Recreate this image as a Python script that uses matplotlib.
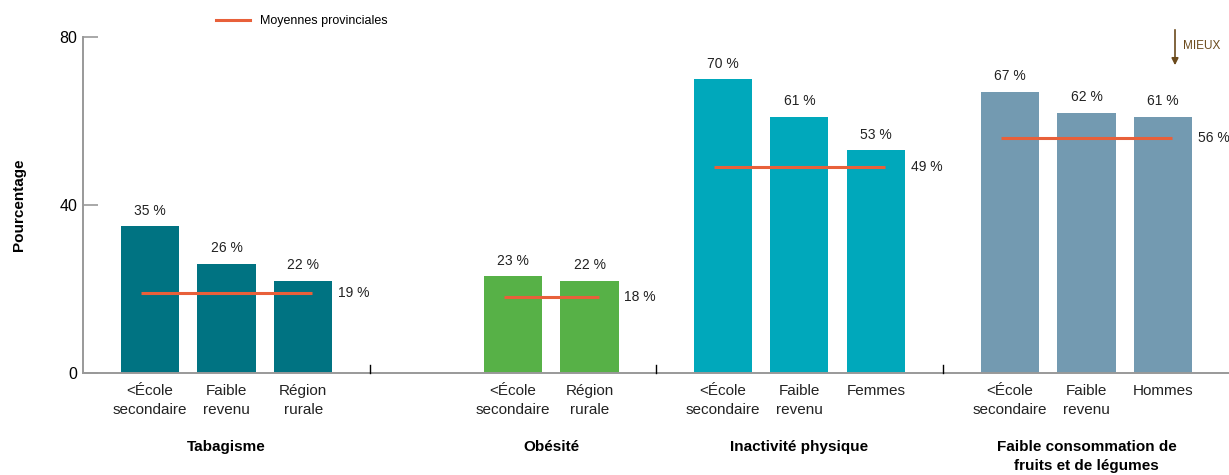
import matplotlib.pyplot as plt
from matplotlib.lines import Line2D
from matplotlib.transforms import blended_transform_factory

plt.rcParams['font.family'] = ['Liberation Sans', 'DejaVu Sans']

# data
group_names = ["Tabagisme", "Obésité", "Inactivité physique",
               "Faible consommation de\nfruits et de légumes"]
tabac_labels = ["<École\nsecondaire", "Faible\nrevenu", "Région\nrurale"]
tabac_vals = [35, 26, 22]
obes_labels = ["<École\nsecondaire", "Région\nrurale"]
obes_vals = [23, 22]
inact_labels = ["<École\nsecondaire", "Faible\nrevenu", "Femmes"]
inact_vals = [70, 61, 53]
fruits_labels = ["<École\nsecondaire", "Faible\nrevenu", "Hommes"]
fruits_vals = [67, 62, 61]
averages = [19, 18, 49, 56]
colors = ["#007382", "#57B147", "#00A8BB", "#739AB1"]

# layout
group_starts = [0, 4.74, 7.48, 11.23]
bar_w = 0.76
avg_color = "#E8603A"

fig = plt.figure(figsize=(12.29, 4.75), dpi=100)
ax = fig.add_axes([83 / 1229, 1 - 373 / 475, 1 - 83 / 1229, 336 / 475])

groups = [(tabac_labels, tabac_vals), (obes_labels, obes_vals),
          (inact_labels, inact_vals), (fruits_labels, fruits_vals)]

xticks, xlabels = [], []
trans = blended_transform_factory(ax.transData, ax.transAxes)
for gi, (labels, vals) in enumerate(groups):
    xs = [group_starts[gi] + i for i in range(len(vals))]
    ax.bar(xs, vals, width=bar_w, color=colors[gi], zorder=2)
    for x, v in zip(xs, vals):
        ax.annotate(f"{v} %", (x, v), xytext=(0, 6), textcoords="offset points",
                    ha="center", va="bottom", fontsize=10, color="#222222")
    ax.plot([xs[0] - 0.12, xs[-1] + 0.12], [averages[gi]] * 2,
            color=avg_color, lw=2.2, zorder=3, solid_capstyle="butt")
    ax.annotate(f"{averages[gi]} %", (xs[-1] + bar_w / 2, averages[gi]),
                xytext=(4, 0), textcoords="offset points",
                ha="left", va="center", fontsize=10, color="#222222")
    xticks += xs
    xlabels += labels
    ax.text(sum(xs) / len(xs), -0.2, group_names[gi], transform=trans,
            ha="center", va="top", fontsize=11, fontweight="bold",
            linespacing=1.4)
    if gi < 3:
        ax.plot([xs[-1] + 0.87] * 2, [0, 2], color="black", lw=1,
                clip_on=False, zorder=4)

ax.set_xticks(xticks)
ax.set_xticklabels(xlabels, fontsize=11, linespacing=1.45, color="#222222")
ax.tick_params(axis="x", length=0, pad=8)

ax.set_xlim(-0.875, 14.09)
ax.set_ylim(0, 80)
ax.set_yticks([0, 40, 80])
ax.tick_params(axis="y", direction="in", length=11, width=1.2, color="#999999",
               labelsize=11.5, pad=4)
ax.set_ylabel("Pourcentage", fontsize=11, fontweight="bold", labelpad=24)

for s in ["top", "right"]:
    ax.spines[s].set_visible(False)
for s in ["left", "bottom"]:
    ax.spines[s].set_color("#999999")
    ax.spines[s].set_linewidth(1.4)

# legend
handle = Line2D([], [], color=avg_color, lw=2.2)
ax.legend([handle], ["Moyennes provinciales"], loc="center left",
          bbox_to_anchor=(216 / 1229, 1 - 21 / 475), bbox_transform=fig.transFigure,
          frameon=False, fontsize=9, handlelength=2.7, handletextpad=0.8,
          borderpad=0, borderaxespad=0)

# "MIEUX" arrow
brown = "#6B4A1C"
ax.annotate("", xy=(1175 / 1229, 1 - 68 / 475), xycoords="figure fraction",
            xytext=(1175 / 1229, 1 - 27 / 475), textcoords="figure fraction",
            arrowprops=dict(arrowstyle="-|>", color=brown, lw=1.2,
                            mutation_scale=10))
fig.text(1183 / 1229, 1 - 46 / 475, "MIEUX", fontsize=8.5, color=brown,
         ha="left", va="center")

fig.savefig("out.png", dpi=100)
